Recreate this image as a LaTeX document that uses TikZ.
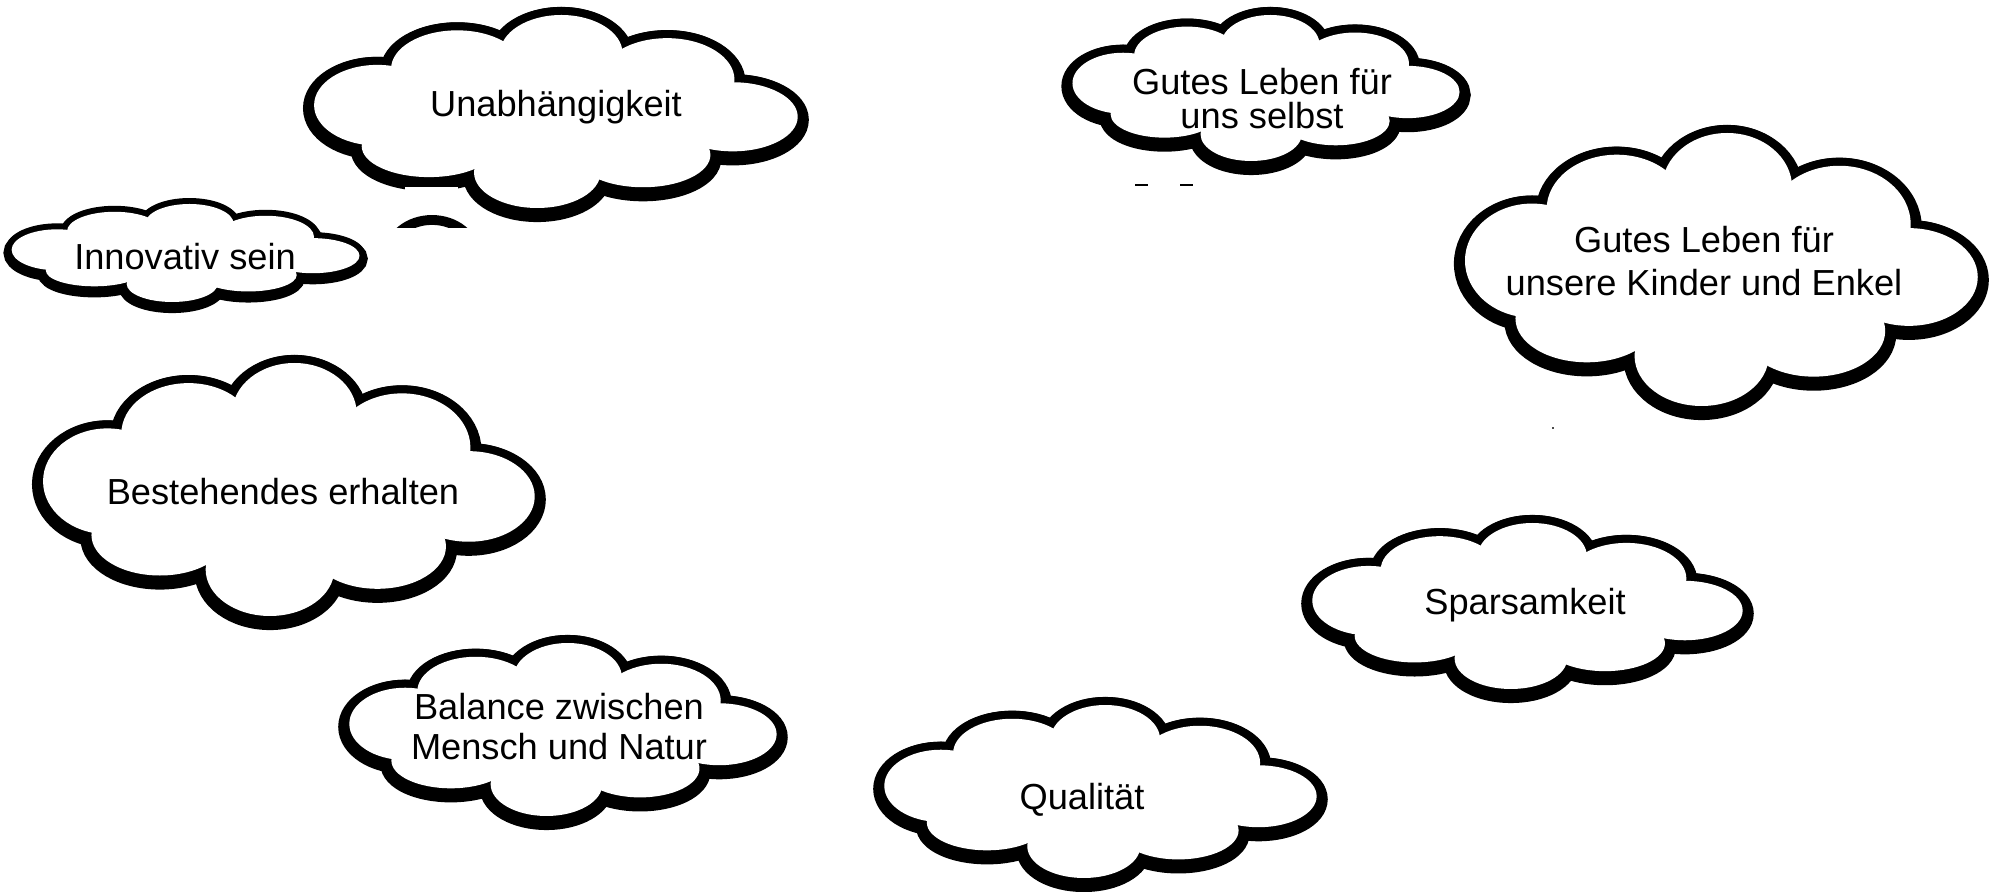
\documentclass[tikz,border=0pt]{standalone}
\usepackage{fontspec}
\setmainfont{Liberation Sans}

\tikzset{
  rand/.style={line width=4.55pt},
  schatten/.style={line width=6.3pt, draw=black, fill=black},
  wort/.style={font=\fontsize{10.3}{12}\selectfont, align=center, inner sep=0pt, anchor=base}
}

% Wolke aus Ellipsen: Mitte x, Mitte y, halbe Breite, halbe Hoehe
\def\puffliste{-0.745/-0.065/0.263/0.418, -0.413/-0.441/0.275/0.40,
  0.02/-0.60/0.255/0.40, 0.46/-0.33/0.28/0.43, 0.733/0.055/0.27/0.358,
  0.36/0.45/0.28/0.335, -0.08/0.632/0.263/0.368, -0.53/0.36/0.28/0.32,
  0/0/0.75/0.55}
\newcommand{\wolke}[4]{%
  \begin{scope}[shift={(#1,#2+3)}, xscale=#3, yscale=#4]
    \foreach \px/\py/\ra/\rb in \puffliste
      \draw[schatten] (\px,\py) ellipse [x radius=\ra, y radius=\rb];
  \end{scope}
  \begin{scope}[shift={(#1,#2)}, xscale=#3, yscale=#4]
    \foreach \px/\py/\ra/\rb in \puffliste
      \draw[rand] (\px,\py) ellipse [x radius=\ra, y radius=\rb];
    \foreach \px/\py/\ra/\rb in \puffliste
      \fill[white] (\px,\py) ellipse [x radius=\ra, y radius=\rb];
  \end{scope}
}

\begin{document}
\begin{tikzpicture}[x=0.01cm,y=-0.01cm]
\useasboundingbox (0,0) rectangle (1991,892);

\wolke{556.5}{111.5}{240.5}{96.5}
\begin{scope}[rand/.style={line width=3.4pt},
  schatten/.style={line width=4.6pt, draw=black, fill=black}]
  \wolke{186}{253}{173}{49}
\end{scope}
\wolke{1266.5}{88}{192.5}{73}
\wolke{1722}{269.5}{255}{136.5}
\wolke{289.5}{489.5}{244.5}{126.5}
\wolke{1528}{606}{214}{83}
\wolke{563.5}{729.5}{212.5}{86.5}
\wolke{1101}{791.5}{215}{86.5}

\node[wort] (unab) at (556,117) {Unabhängigkeit};
\node[wort] (innov) at (185,270) {Innovativ sein};
\node[wort, font=\fontsize{10.3}{9.8}\selectfont] (selbst) at (1262,129) {Gutes Leben für\\uns selbst};
\node[wort, font=\fontsize{10.3}{12.5}\selectfont] (kinder) at (1704,296) {Gutes Leben für\\unsere Kinder und Enkel};
\node[wort] (besteh) at (283,505) {Bestehendes erhalten};
\node[wort] (spar) at (1525,615) {Sparsamkeit};
\node[wort, font=\fontsize{10.3}{11.4}\selectfont] (balance) at (559,760) {Balance zwischen\\Mensch und Natur};
\node[wort] (qual) at (1082,810) {Qualität};

\fill[white] (405,187) rectangle (458,200);
\begin{scope}
  \clip (390,205) rectangle (475,228);
  \draw[line width=2.8pt] (432,255) ellipse [x radius=4.3mm, y radius=3.5mm];
\end{scope}
\draw[line width=0.4pt] (1135,185) -- (1148,185);
\draw[line width=0.4pt] (1180,185) -- (1193,185);
\fill[black!70] (1552,427) rectangle (1554,429);
\end{tikzpicture}
\end{document}
